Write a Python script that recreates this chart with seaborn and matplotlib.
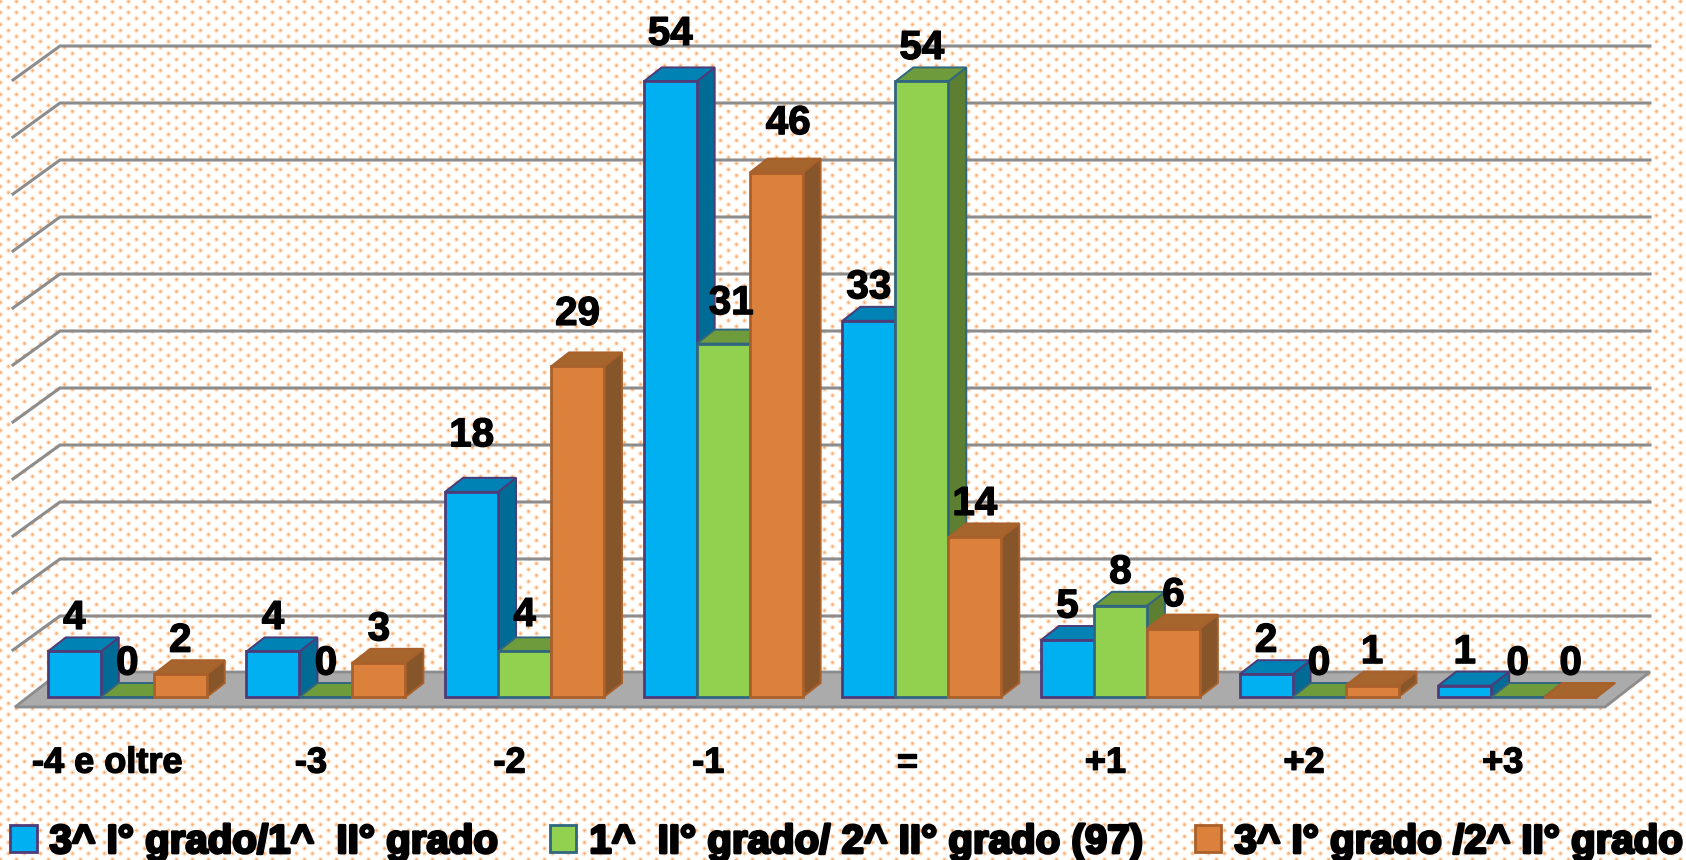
import numpy as np
import pandas as pd
import seaborn as sns
import matplotlib.pyplot as plt
import matplotlib.patheffects as pe
from matplotlib.patches import Polygon
from matplotlib.transforms import Affine2D

categories = ["-4 e oltre", "-3", "-2", "-1", "=", "+1", "+2", "+3"]
series_names = ["3^ I° grado/1^  II° grado", "1^  II° grado/ 2^ II° grado (97)", "3^ I° grado /2^ II° grado"]
blue_vals = [4, 4, 18, 54, 33, 5, 2, 1]
green_vals = [0, 0, 4, 31, 54, 8, 0, 0]
orange_vals = [2, 3, 29, 46, 14, 6, 1, 0]

front_cols = ["#00B0F0", "#92D050", "#DB813C"]
top_cols = ["#0083B4", "#6E9C3C", "#A5652D"]
side_cols = ["#006C96", "#5C7F31", "#87552A"]
edge_cols = ["#4F3B78", "#31667F", "#A9602B"]

W, H = 1686, 860
plt.rcParams["font.family"] = ["Liberation Sans", "DejaVu Sans"]
plt.rcParams["font.weight"] = "bold"

df = pd.DataFrame({
    "cat": categories * 3,
    "val": blue_vals + green_vals + orange_vals,
    "serie": np.repeat(series_names, len(categories)),
})

fig = plt.figure(figsize=(W / 100, H / 100), dpi=100, facecolor="white")

# dotted paper background
bg = fig.add_axes([0, 0, 1, 1], zorder=0)
bg.set_xlim(0, W)
bg.set_ylim(H, 0)
bg.axis("off")
gx, gy = np.meshgrid(np.arange(-8, W + 8, 16.0), np.arange(-5, H + 5, 5.8))
gx = gx + (np.round((gy + 5) / 5.8) % 2) * 8
bg.scatter(gx.ravel(), gy.ravel(), s=14, color="#FDE8D6", linewidths=0)
bg.scatter(gx.ravel(), gy.ravel(), s=3, color="#F7A96C", linewidths=0)

# axes: y=0 at the front bar base, y=55 at 627 px higher
left, right = 28.0, 1617.0
base, top = 697.0, 70.0
ax = fig.add_axes([left / W, 1 - base / H, (right - left) / W, (base - top) / H], zorder=1)
ax.patch.set_alpha(0)

sns.barplot(data=df, x="cat", y="val", hue="serie", order=categories, hue_order=series_names,
            palette=front_cols, width=0.8, gap=0, saturation=1, ax=ax)
ax.set_xlim(-0.5, 7.5)
ax.set_ylim(0, 55)
ax.set_xlabel("")
ax.set_ylabel("")
ax.set_yticks([])
ax.tick_params(axis="x", length=0, pad=35, labelsize=26)
sns.despine(ax=ax, left=True, bottom=True)
for i, lab in enumerate(ax.get_xticklabels()):
    lab.set_fontweight("bold")
    lab.set_path_effects([pe.withStroke(linewidth=1.0, foreground="black")])
    lab.set_transform(lab.get_transform() + Affine2D().translate(-20 if i == 0 else -15, 0))


def px(x, y):
    return (x - left) / ((right - left) / 8) - 0.5, (base - y) / ((base - top) / 55)


# floor
floor = [px(15, 707), px(1605, 707), px(1650, 672), px(60, 672)]
ax.add_patch(Polygon(floor, closed=True, fc="#ABABAB", ec="#8C8C8C", lw=2, zorder=1, clip_on=False))

# walls and gridlines
for v in np.arange(5, 60, 5):
    y = v * (base - top) / 55
    xa, ya = px(13, base - y - 24 + 34)
    xb, yb = px(60, base - y - 24)
    xc, _ = px(1650, 0)
    ax.plot([xa, xb, xc], [ya, yb, yb], color="#8C8C8C", lw=2.2, zorder=0.5, clip_on=False,
            solid_joinstyle="miter")

# 3d faces built on the bars seaborn drew, painted left to right
ddx = 18 * 8 / (right - left)
ddy = 14 * 55 / (base - top)
bars = []
for s, cont in enumerate(ax.containers):
    for b in cont:
        bars.append((b, s))
bars.sort(key=lambda t: t[0].get_x())

for i, (b, s) in enumerate(bars):
    x0, w, h = b.get_x(), b.get_width(), b.get_height()
    z = 3 + i
    if h > 0:
        ax.add_patch(Polygon([(x0 + w, 0), (x0 + w + ddx, ddy), (x0 + w + ddx, h + ddy), (x0 + w, h)],
                             closed=True, fc=side_cols[s], ec=edge_cols[s], lw=1.4, zorder=z, clip_on=False))
    ax.add_patch(Polygon([(x0, h), (x0 + w, h), (x0 + w + ddx, h + ddy), (x0 + ddx, h + ddy)],
                         closed=True, fc=top_cols[s], ec=edge_cols[s], lw=1.4, zorder=z + 0.1, clip_on=False))
    b.set_edgecolor(edge_cols[s])
    b.set_linewidth(2)
    b.set_zorder(z + 0.2)
    b.set_clip_on(False)

# value labels, a few sit higher or further right in the original
extra = {(3, 0): (0, 14), (2, 0): (0, 23), (2, 2): (0, 19), (3, 2): (12, 16), (3, 1): (8, 7), (2, 1): (0, 3)}
for b, s in bars:
    cat = int(round(b.get_x() + b.get_width() / 2 - (s - 1) * b.get_width()))
    dx, dy = extra.get((cat, s), (0, 0))
    ax.annotate(f"{b.get_height():.0f}", (b.get_x() + b.get_width() / 2, b.get_height()),
                xytext=(dx * 0.72, (33.5 + dy) * 0.72), textcoords="offset points",
                ha="center", va="center", fontsize=29, fontweight="bold", color="black",
                path_effects=[pe.withStroke(linewidth=1.0, foreground="black")],
                zorder=100, annotation_clip=False)

# legend
leg = ax.legend(loc="lower left", bbox_to_anchor=(-18 / (right - left), -(861 - base) / (base - top)),
                ncol=3, frameon=False, fontsize=29, handlelength=0.66, handleheight=0.66,
                handletextpad=0.32, columnspacing=1.3, borderaxespad=0, borderpad=0)
for h, c in zip(leg.legend_handles, edge_cols):
    h.set_edgecolor(c)
    h.set_linewidth(2)
for t in leg.get_texts():
    t.set_fontweight("bold")
    t.set_path_effects([pe.withStroke(linewidth=2.0, foreground="black")])
leg.set_zorder(100)

fig.savefig("out.png", dpi=100)
